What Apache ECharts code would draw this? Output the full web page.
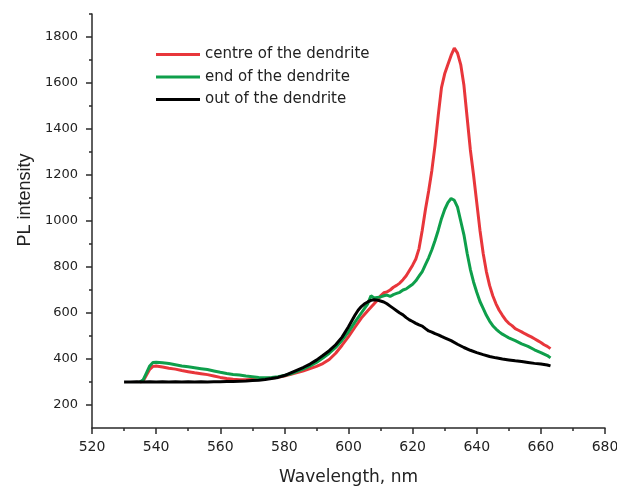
<!DOCTYPE html>
<html>
<head>
<meta charset="utf-8">
<script src="https://cdn.jsdelivr.net/npm/echarts@6/dist/echarts.min.js"></script>
<style>
  html, body { margin: 0; padding: 0; background: #fff; }
  #chart { width: 617px; height: 488px; }
</style>
</head>
<body>
<div id="chart"></div>
<script>
// centre of the dendrite (red)
const centreNm = [535, 536, 537, 538, 539, 540, 542, 544, 546, 548, 550, 552, 554, 556, 558, 560, 562, 564, 566, 568, 570, 572, 574, 576, 578, 580, 582, 584, 586, 588, 590, 592, 594, 596, 598, 600, 602, 604, 606, 607, 608, 609, 610, 611, 612, 613, 614, 615, 616, 617, 618, 619, 620, 621, 622, 623, 624, 625, 626, 627, 628, 629, 630, 631, 632, 633, 634, 635, 636, 637, 638, 639, 640, 641, 642, 643, 644, 645, 646, 647, 648, 649, 650, 651, 652, 653, 654, 655, 656, 657, 658, 659, 660, 661, 662, 663];
const centreVal = [300, 305, 330, 355, 368, 370, 365, 360, 356, 350, 345, 340, 336, 332, 326, 320, 315, 312, 310, 310, 311, 312, 314, 317, 321, 326, 333, 341, 349, 358, 368, 380, 398, 425, 460, 497, 538, 578, 610, 625, 640, 655, 675, 688, 692, 700, 712, 720, 730, 745, 762, 785, 808, 835, 880, 960, 1050, 1130, 1220, 1330, 1460, 1580, 1640, 1680, 1720, 1752, 1730, 1680, 1590, 1450, 1310, 1200, 1080, 960, 860, 780, 720, 675, 640, 612, 590, 570, 555, 545, 532, 525, 518, 510, 503, 496, 488, 480, 472, 462, 455, 445];

// end of the dendrite (green)
const endNm = [535, 536, 537, 538, 539, 540, 542, 544, 546, 548, 550, 552, 554, 556, 558, 560, 562, 564, 566, 568, 570, 572, 574, 576, 578, 580, 582, 584, 586, 588, 590, 592, 594, 596, 598, 600, 602, 604, 605, 606, 607, 608, 609, 610, 611, 612, 613, 614, 615, 616, 617, 618, 619, 620, 621, 622, 623, 624, 625, 626, 627, 628, 629, 630, 631, 632, 633, 634, 635, 636, 637, 638, 639, 640, 641, 642, 643, 644, 645, 646, 647, 648, 649, 650, 652, 654, 656, 658, 660, 662, 663];
const endVal = [300, 310, 340, 370, 385, 386, 384, 380, 375, 370, 366, 362, 358, 354, 348, 342, 337, 333, 330, 326, 323, 320, 319, 320, 323, 328, 336, 346, 357, 370, 385, 404, 425, 450, 482, 518, 560, 600, 620, 640, 675, 665, 668, 670, 675, 678, 672, 680, 685, 690, 700, 705, 715, 725, 740, 760, 780, 810, 840, 875, 915, 960, 1010, 1050, 1080, 1098, 1090, 1060, 1000, 940, 860, 790, 735, 690, 650, 620, 590, 565, 545, 530, 518, 508, 500, 492, 480, 466, 455, 440, 428, 415, 405];

// out of the dendrite (black)
const outNm = [530, 532, 534, 536, 538, 540, 542, 544, 546, 548, 550, 552, 554, 556, 558, 560, 562, 564, 566, 568, 570, 572, 574, 576, 578, 580, 582, 584, 586, 588, 590, 592, 594, 596, 598, 600, 601, 602, 603, 604, 605, 606, 607, 608, 609, 610, 611, 612, 613, 614, 615, 616, 617, 618, 619, 620, 621, 622, 623, 624, 625, 626, 627, 628, 629, 630, 632, 634, 636, 638, 640, 642, 644, 646, 648, 650, 652, 654, 656, 658, 660, 662, 663];
const outVal = [300, 300, 301, 300, 301, 300, 301, 300, 301, 300, 301, 300, 301, 300, 301, 301, 302, 302, 303, 304, 306, 308, 311, 315, 320, 328, 340, 352, 364, 378, 395, 415, 436, 462, 495, 540, 565, 590, 612, 628, 640, 648, 655, 658, 656, 652, 648, 640, 630, 620, 610, 600, 592, 580, 570, 563, 555, 548, 543, 532, 522, 517, 510, 505, 498, 492, 480, 464, 450, 438, 428, 419, 411, 405, 400, 396, 392, 389, 385, 381, 378, 374, 370];

const xTicks = [520, 540, 560, 580, 600, 620, 640, 660, 680];
const yMajorTicks = [200, 400, 600, 800, 1000, 1200, 1400, 1600, 1800];
const yMinorTicks = [300, 500, 700, 900, 1100, 1300, 1500, 1700, 1900];

const zip = (xs, ys) => xs.map((x, i) => [x, ys[i]]);

const chart = echarts.init(document.getElementById('chart'), null, { renderer: 'canvas' });

const axisColor = '#2a2a2a';
const textColor = '#222';

const option = {
    animation: false,
    backgroundColor: '#fff',
    grid: { left: 92, right: 12, top: 14, bottom: 60, containLabel: false, outerBoundsMode: 'none' },
    legend: {
        orient: 'vertical',
        left: 151,
        top: 42,
        icon: 'rect',
        itemWidth: 44,
        itemHeight: 3,
        itemGap: 7.5,
        textStyle: { fontFamily: 'DejaVu Sans', fontSize: 15, lineHeight: 15, color: textColor },
        data: ['centre of the dendrite', 'end of the dendrite', 'out of the dendrite']
    },
    xAxis: {
        type: 'value',
        min: xTicks[0],
        max: xTicks[xTicks.length - 1],
        interval: 20,
        name: 'Wavelength, nm',
        nameLocation: 'middle',
        nameGap: 41,
        nameTextStyle: { fontFamily: 'DejaVu Sans', fontSize: 17, color: textColor },
        axisLine: { lineStyle: { color: axisColor, width: 1.5 } },
        axisTick: { length: 6, lineStyle: { color: axisColor, width: 1.5 } },
        minorTick: { show: true, splitNumber: 2, length: 3, lineStyle: { color: axisColor, width: 1.5 } },
        axisLabel: { margin: 12, fontFamily: 'DejaVu Sans', fontSize: 14, color: textColor },
        splitLine: { show: false },
        minorSplitLine: { show: false }
    },
    yAxis: [
        {
            type: 'value',
            min: 100,
            max: 1900,
            interval: 100,
            name: 'PL intensity',
            nameLocation: 'middle',
            nameGap: 54,
            nameTextStyle: { fontFamily: 'Liberation Sans', fontSize: 18, color: textColor, padding: [0, 0, 0, 42] },
            axisLine: { show: true, lineStyle: { color: axisColor, width: 1.5 } },
            axisTick: { length: 6, customValues: yMajorTicks, lineStyle: { color: axisColor, width: 1.5 } },
            axisLabel: {
                margin: 14,
                customValues: yMajorTicks,
                formatter: v => String(v),
                fontFamily: 'DejaVu Sans',
                fontSize: 13,
                color: textColor
            },
            splitLine: { show: false }
        },
        {
            type: 'value',
            position: 'left',
            min: 100,
            max: 1900,
            interval: 100,
            axisLine: { show: false },
            axisTick: { show: true, length: 3, customValues: yMinorTicks, lineStyle: { color: axisColor, width: 1.5 } },
            axisLabel: { show: false },
            splitLine: { show: false }
        }
    ],
    series: [
        {
            name: 'centre of the dendrite',
            type: 'line',
            symbol: 'none',
            color: '#e8363b',
            lineStyle: { width: 3 },
            data: zip(centreNm, centreVal)
        },
        {
            name: 'end of the dendrite',
            type: 'line',
            symbol: 'none',
            color: '#0e9f4b',
            lineStyle: { width: 3 },
            data: zip(endNm, endVal)
        },
        {
            name: 'out of the dendrite',
            type: 'line',
            symbol: 'none',
            color: '#000000',
            lineStyle: { width: 3 },
            data: zip(outNm, outVal)
        }
    ]
};

chart.setOption(option);
window.addEventListener('resize', chart.resize);
</script>
</body>
</html>
